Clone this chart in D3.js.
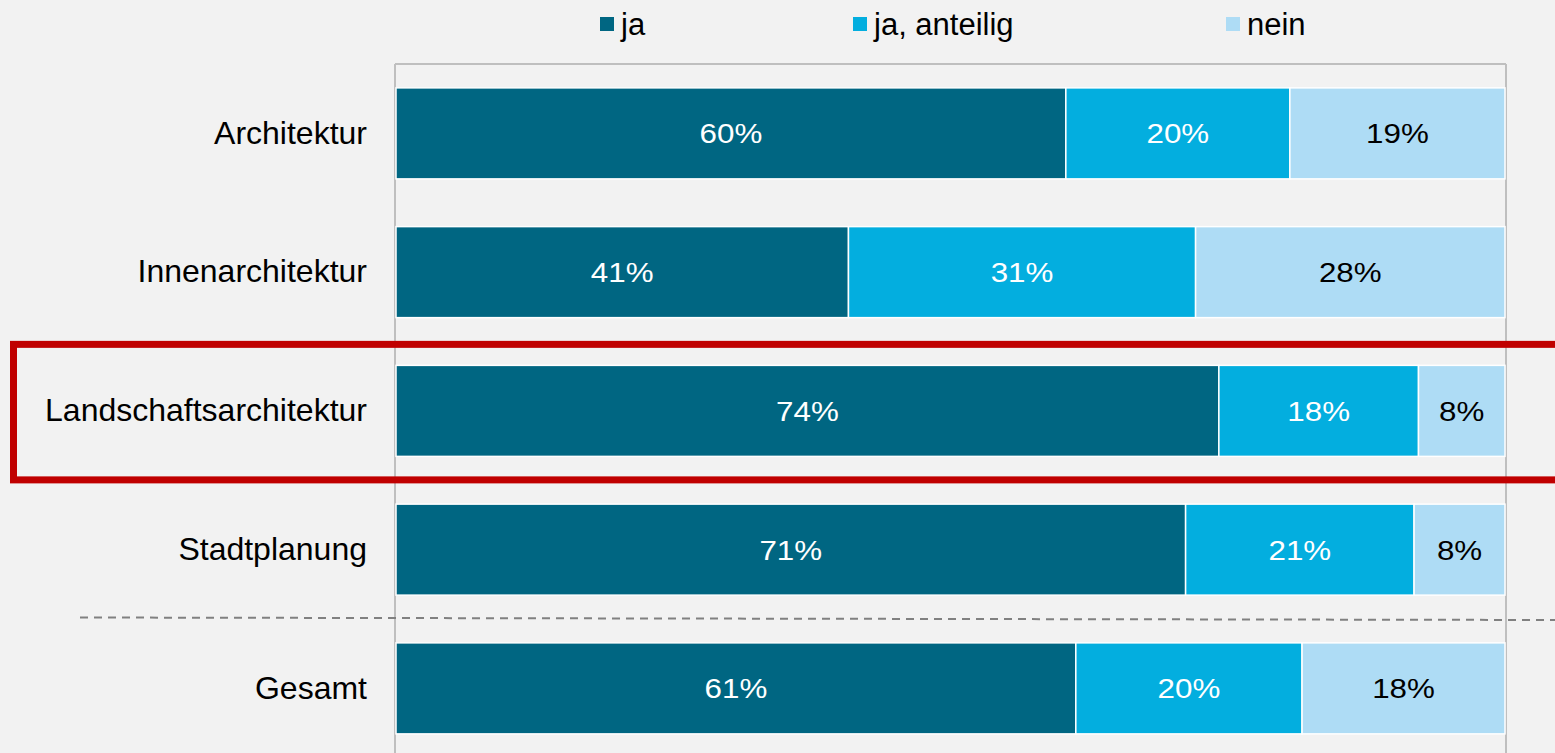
<!DOCTYPE html>
<html>
<head>
<meta charset="utf-8">
<script src="https://cdn.jsdelivr.net/npm/d3@7"></script>
<style>
  body { margin: 0; background: #f2f2f2; }
  svg { display: block; font-family: "Liberation Sans", Arial, sans-serif; }
</style>
</head>
<body>
<div id="chart"></div>
<script>
const categories = ['Architektur', 'Innenarchitektur', 'Landschaftsarchitektur', 'Stadtplanung', 'Gesamt'];
const seriesNames = ['ja', 'ja, anteilig', 'nein'];
const ja = [60.4, 40.8, 74.2, 71.2, 61.3];
const anteilig = [20.2, 31.3, 18.0, 20.6, 20.4];
const nein = [19.4, 27.9, 7.8, 8.2, 18.3];
const highlighted = 'Landschaftsarchitektur';

const colors = ['#006682', '#03aedf', '#aedcf5'];
const labelColors = ['#ffffff', '#ffffff', '#000000'];

const width = 1555, height = 753;
const margin = { top: 64, left: 396, right: 50 };

const rows = categories.map((c, i) => ({
    cat: c, 'ja': ja[i], 'ja, anteilig': anteilig[i], 'nein': nein[i]
}));
const stacked = d3.stack().keys(seriesNames)(rows);

const svg = d3.select('#chart')
    .append('svg')
    .attr('width', width)
    .attr('height', height);

svg.append('rect').attr('width', width).attr('height', height).attr('fill', '#f2f2f2');

const x = d3.scaleLinear()
    .domain([0, 100])
    .range([margin.left, 1505]);

const y = d3.scaleBand()
    .domain(categories)
    .range([margin.top, margin.top + 5 * 138.75])
    .paddingInner(0.344)
    .paddingOuter(0.172);

// frame lines
const grid = svg.append('g').attr('stroke', '#bfbfbf').attr('stroke-width', 2);
grid.append('line')
    .attr('x1', x(0) - 1).attr('x2', x(100) + 1)
    .attr('y1', margin.top).attr('y2', margin.top);
[x(0) - 1, x(100) + 1].forEach(v => {
    grid.append('line')
        .attr('x1', v).attr('x2', v)
        .attr('y1', margin.top).attr('y2', height);
});

// bars
const layer = svg.append('g').selectAll('g')
    .data(stacked)
    .join('g')
    .attr('fill', (d, i) => colors[i]);

layer.selectAll('rect')
    .data(d => d)
    .join('rect')
    .attr('x', d => x(d[0]))
    .attr('y', d => y(d.data.cat))
    .attr('width', d => x(d[1]) - x(d[0]))
    .attr('height', y.bandwidth())
    .attr('stroke', '#ffffff')
    .attr('stroke-width', 1.5);

// value labels
stacked.forEach((s, i) => {
    svg.append('g').selectAll('text')
        .data(s)
        .join('text')
        .attr('transform', d => 'translate(' + ((x(d[0]) + x(d[1])) / 2) + ',' + (y(d.data.cat) + y.bandwidth() / 2) + ') scale(1.12,1)')
        .attr('text-anchor', 'middle')
        .attr('dy', '0.36em')
        .attr('font-size', 28)
        .attr('fill', labelColors[i])
        .text(d => Math.round(d[1] - d[0]) + '%');
});

// category labels
svg.append('g')
    .call(d3.axisLeft(y).tickSize(0).tickPadding(29))
    .attr('transform', 'translate(' + margin.left + ',0)')
    .call(g => g.select('.domain').remove())
    .selectAll('text')
    .attr('font-size', 32)
    .attr('font-family', '"Liberation Sans", Arial, sans-serif')
    .attr('fill', '#000');

// dashed separator before Gesamt
const sepY = y('Gesamt') - (y.step() - y.bandwidth()) / 2;
svg.append('line')
    .attr('x1', 80).attr('x2', width)
    .attr('y1', sepY - 1.5).attr('y2', sepY + 1)
    .attr('stroke', '#808080')
    .attr('stroke-width', 2)
    .attr('stroke-dasharray', '8,6');

// highlight box
svg.append('rect')
    .attr('x', 13.5)
    .attr('y', y(highlighted) - 21)
    .attr('width', 1600)
    .attr('height', y.bandwidth() + 44.5)
    .attr('fill', 'none')
    .attr('stroke', '#c00000')
    .attr('stroke-width', 7);

// legend
const legendX = [600, 853, 1226];
const legend = svg.append('g').selectAll('g')
    .data(seriesNames)
    .join('g')
    .attr('transform', (d, i) => 'translate(' + legendX[i] + ',24)');
legend.append('rect')
    .attr('x', 0).attr('y', -7)
    .attr('width', 14).attr('height', 14)
    .attr('fill', (d, i) => colors[i]);
legend.append('text')
    .attr('x', 21)
    .attr('dy', '0.36em')
    .attr('font-size', 31)
    .attr('fill', '#000')
    .text(d => d);
</script>
</body>
</html>
